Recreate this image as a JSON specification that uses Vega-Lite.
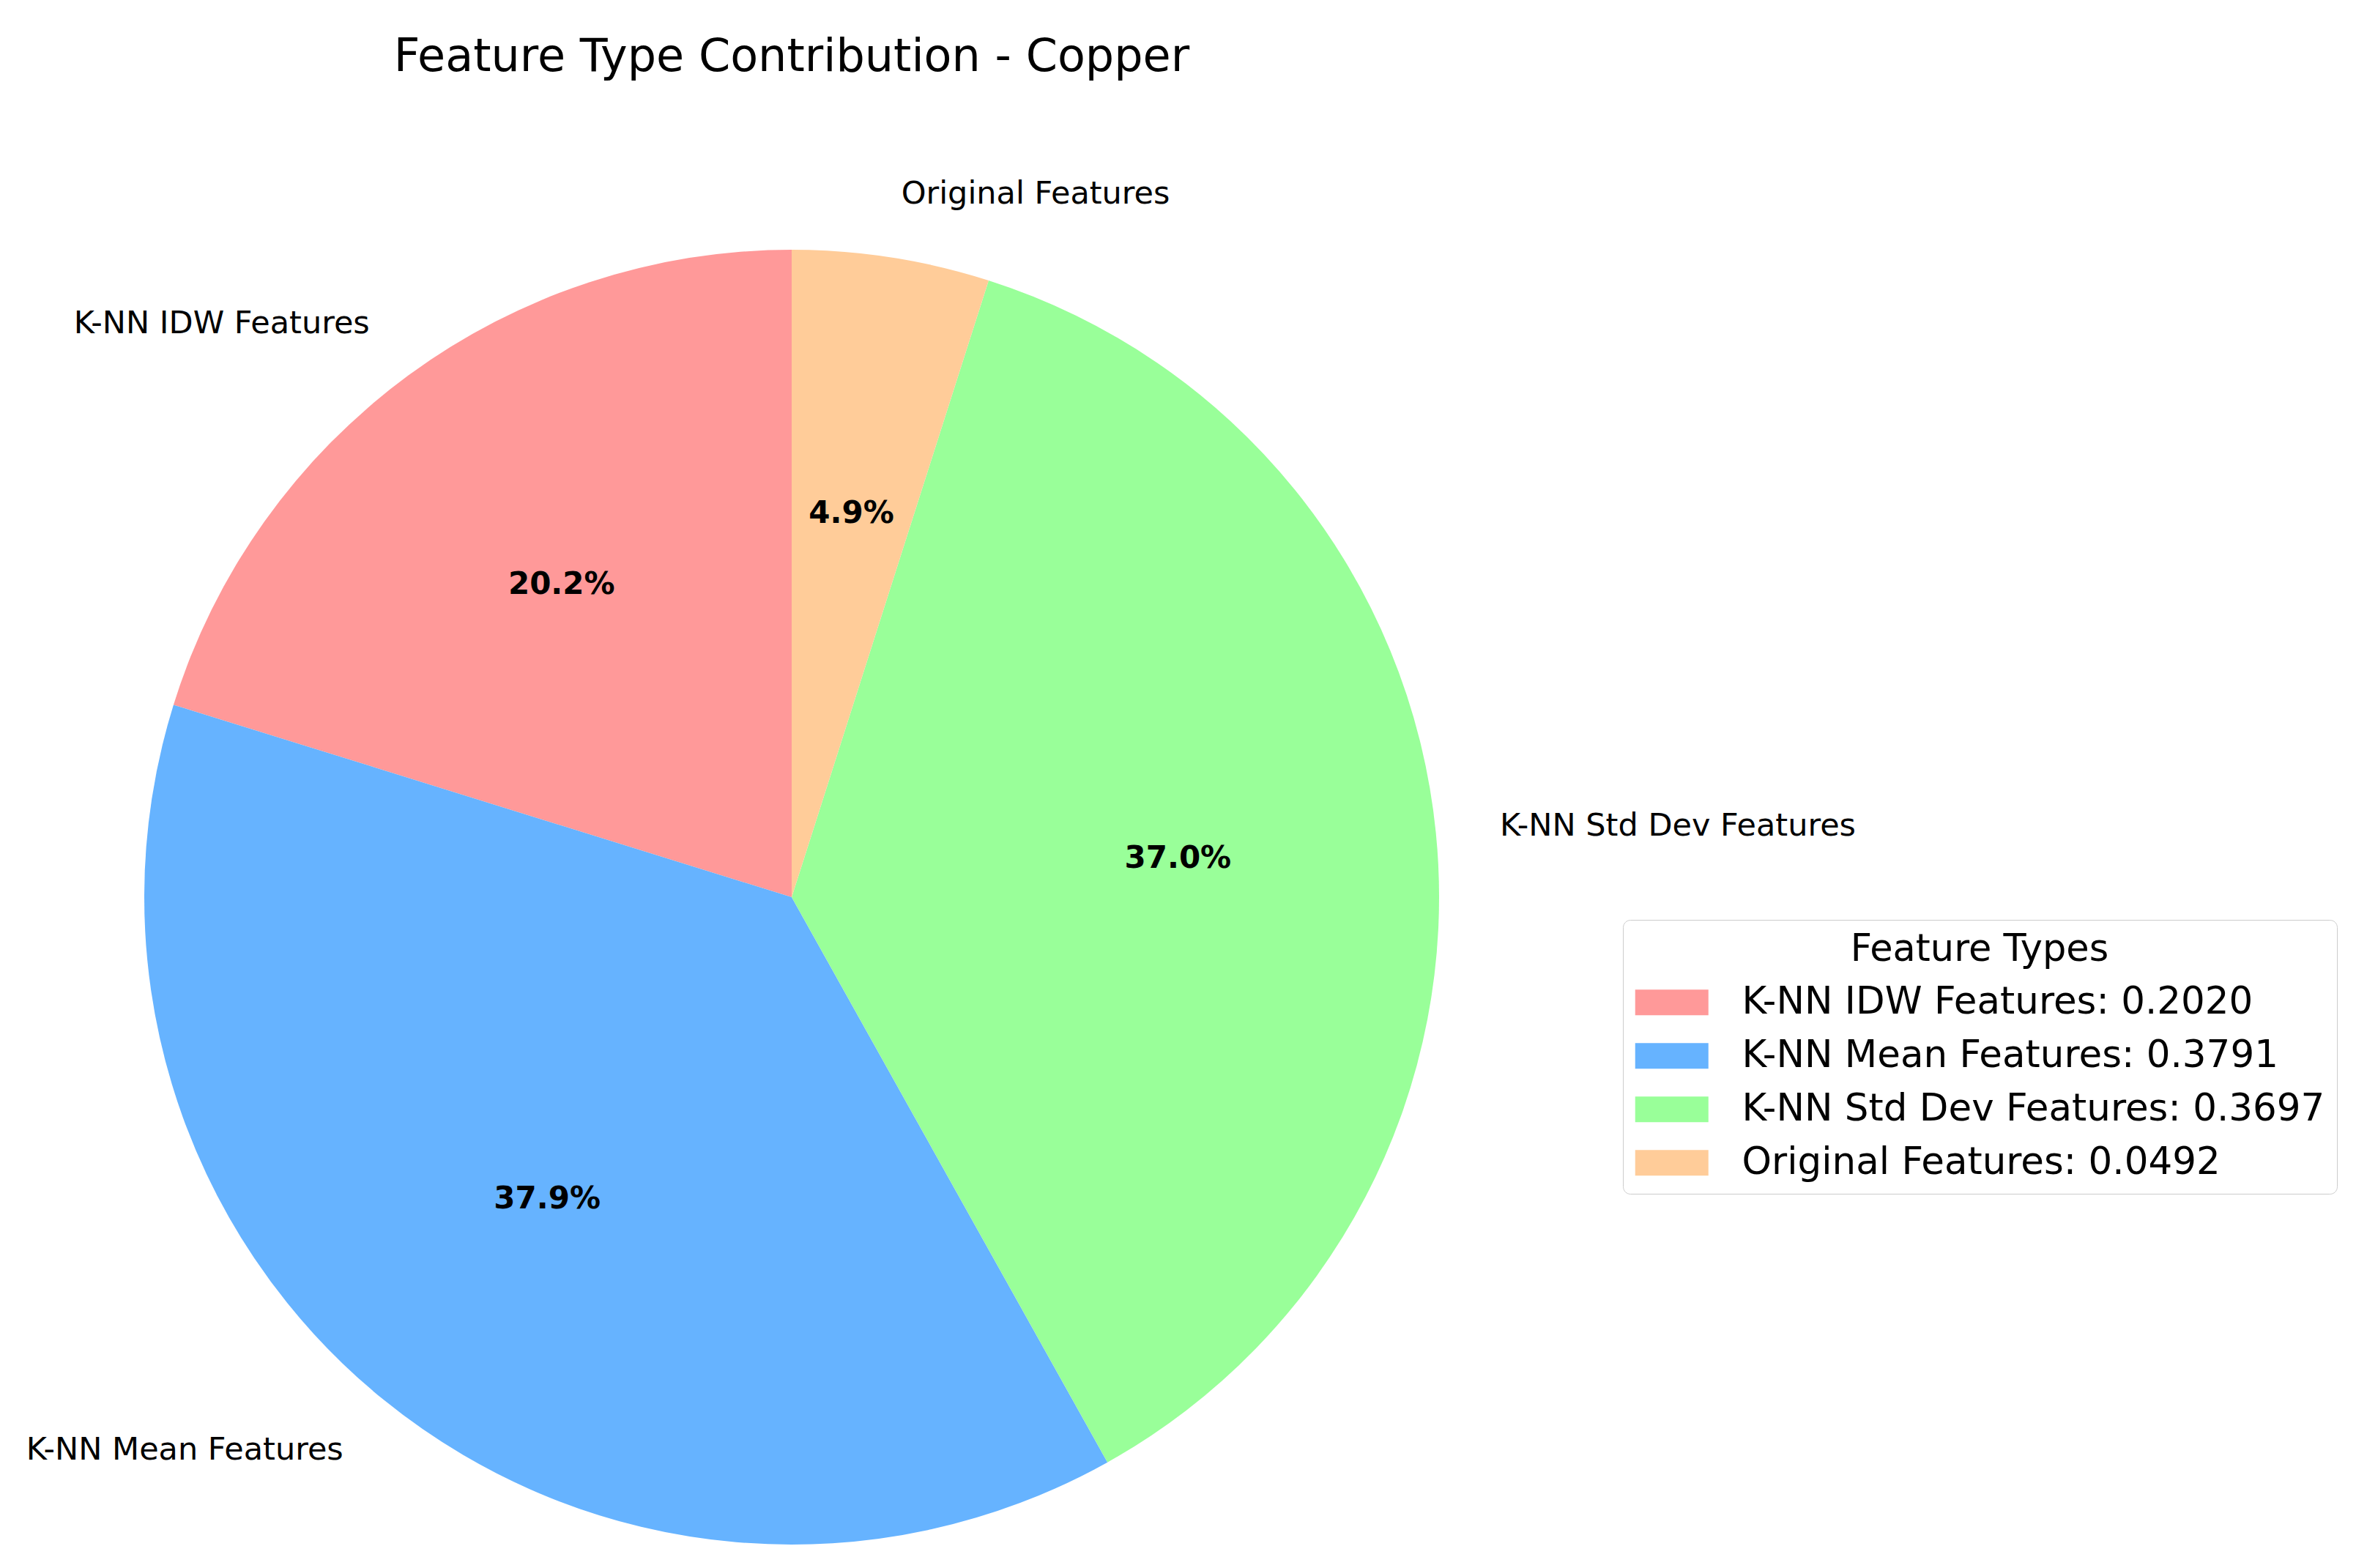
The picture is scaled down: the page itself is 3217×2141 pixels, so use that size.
{
  "$schema": "https://vega.github.io/schema/vega-lite/v6.json",
  "autosize": {"type": "none"},
  "width": 2162,
  "height": 1830,
  "padding": {"left": 0, "top": 310, "right": 1055, "bottom": 1},
  "background": "white",
  "config": {
    "font": "DejaVu Sans",
    "view": {"stroke": null}
  },
  "title": {
    "text": "Feature Type Contribution - Copper",
    "font": "DejaVu Sans",
    "fontSize": 62,
    "fontWeight": "normal",
    "color": "black",
    "anchor": "middle",
    "offset": 134
  },
  "data": {
    "values": [
      {"Feature": "K-NN IDW Features", "value": 0.2020},
      {"Feature": "K-NN Mean Features", "value": 0.3791},
      {"Feature": "K-NN Std Dev Features", "value": 0.3697},
      {"Feature": "Original Features", "value": 0.0492}
    ]
  },
  "encoding": {
    "theta": {"field": "value", "type": "quantitative", "stack": true},
    "order": {"field": "Feature", "type": "nominal", "sort": "descending"}
  },
  "layer": [
    {
      "mark": {"type": "arc", "outerRadius": 884},
      "encoding": {
        "color": {
          "field": "Feature",
          "type": "nominal",
          "scale": {
            "domain": ["K-NN IDW Features", "K-NN Mean Features", "K-NN Std Dev Features", "Original Features"],
            "range": ["#ff9999", "#66b3ff", "#99ff99", "#ffcc99"]
          },
          "legend": {
            "title": "Feature Types",
            "orient": "none",
            "legendX": 2216,
            "legendY": 946,
            "labelExpr": "datum.label == 'K-NN IDW Features' ? 'K-NN IDW Features: 0.2020' : datum.label == 'K-NN Mean Features' ? 'K-NN Mean Features: 0.3791' : datum.label == 'K-NN Std Dev Features' ? 'K-NN Std Dev Features: 0.3697' : 'Original Features: 0.0492'",
            "titleFont": "DejaVu Sans",
            "titleFontSize": 51,
            "titleFontWeight": "normal",
            "titleColor": "black",
            "titleAnchor": "middle",
            "titleLimit": 2000,
            "titlePadding": 20,
            "labelFont": "DejaVu Sans",
            "labelFontSize": 51.5,
            "labelColor": "black",
            "labelLimit": 2000,
            "labelOffset": 70,
            "symbolType": "M-2,-0.7H2V0.7H-2Z",
            "symbolSize": 2500,
            "symbolOffset": 25,
            "symbolStrokeWidth": 0,
            "symbolOpacity": 1,
            "rowPadding": 20,
            "padding": 16,
            "fillColor": "white",
            "strokeColor": "#cccccc",
            "cornerRadius": 10
          }
        }
      }
    },
    {
      "mark": {"type": "text", "radius": 530, "font": "DejaVu Sans", "fontSize": 42, "fontWeight": "bold", "color": "black", "align": "center", "baseline": "middle"},
      "encoding": {
        "text": {"field": "value", "type": "quantitative", "format": ".1%"}
      }
    },
    {
      "mark": {"type": "text", "radius": 972, "font": "DejaVu Sans", "fontSize": 43, "color": "black", "align": "left", "baseline": "middle"},
      "encoding": {
        "text": {"field": "Feature", "type": "nominal"},
        "opacity": {"condition": {"test": "datum.Feature == 'Original Features' || datum.Feature == 'K-NN Std Dev Features'", "value": 1}, "value": 0}
      }
    },
    {
      "mark": {"type": "text", "radius": 972, "font": "DejaVu Sans", "fontSize": 43, "color": "black", "align": "right", "baseline": "middle"},
      "encoding": {
        "text": {"field": "Feature", "type": "nominal"},
        "opacity": {"condition": {"test": "datum.Feature == 'K-NN IDW Features' || datum.Feature == 'K-NN Mean Features'", "value": 1}, "value": 0}
      }
    }
  ]
}
